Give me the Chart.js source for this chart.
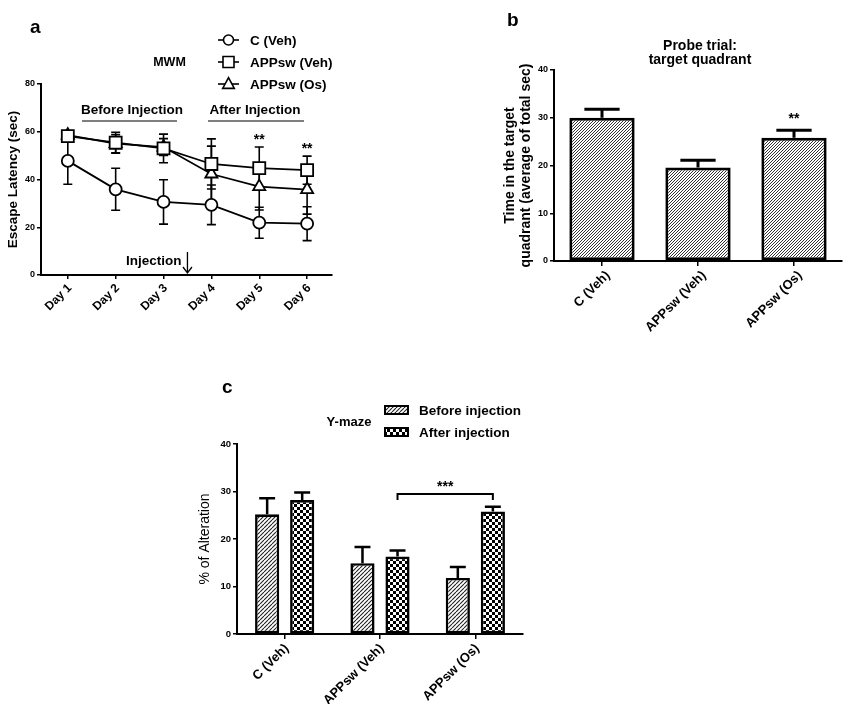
<!DOCTYPE html>
<html><head><meta charset="utf-8">
<script src="https://cdn.jsdelivr.net/npm/chart.js@4"></script>
<style>
html,body{margin:0;padding:0;background:#fff;}
#wrap{position:relative;width:847px;height:718px;overflow:hidden;background:#fff;}
canvas{position:absolute;left:0;top:0;}
</style></head><body>
<div id="wrap">
<canvas id="ca" width="847" height="718"></canvas>
<canvas id="cb" width="847" height="718"></canvas>
<canvas id="cc" width="847" height="718"></canvas>
</div>
<script>
// ---------- DATA ----------
const days = ['Day 1', 'Day 2', 'Day 3', 'Day 4', 'Day 5', 'Day 6'];
const mwmSeries = ['C (Veh)', 'APPsw (Veh)', 'APPsw (Os)'];
const cVeh      = [47.8, 35.9, 30.6, 29.4, 21.9, 21.5];
const cVehErr   = [9.8, 8.8, 9.3, 8.3, 6.5, 7.1];
const appVeh    = [58.2, 55.4, 53.0, 46.5, 44.8, 43.9];
const appVehErr = [1.5, 4.4, 6.0, 10.5, 8.8, 5.9];
const appOs     = [58.6, 55.0, 53.6, 42.3, 37.0, 35.8];
const appOsErr  = [1.3, 3.8, 3.5, 11.7, 9.8, 10.3];

const groups    = ['C (Veh)', 'APPsw (Veh)', 'APPsw (Os)'];
const probeTime = [30.0, 19.6, 25.8];
const probeErr  = [1.8, 1.5, 1.6];

const ymazeSeries    = ['Before injection', 'After injection'];
const ymazeBefore    = [25.2, 14.9, 11.8];
const ymazeBeforeErr = [3.4, 3.4, 2.3];
const ymazeAfter     = [28.2, 16.3, 25.8];
const ymazeAfterErr  = [1.6, 1.3, 1.0];

const yTicksA = [0, 20, 40, 60, 80];
const yTicksB = [0, 10, 20, 30, 40];
const yTicksC = [0, 10, 20, 30, 40];

// ---------- STYLE ----------
const FAM = '"Liberation Sans", Arial, Helvetica, sans-serif';
Chart.defaults.font.family = FAM;
Chart.defaults.color = '#000';

function makeHatch(s, lw, col) {
  const c = document.createElement('canvas'); c.width = s; c.height = s;
  const g = c.getContext('2d');
  g.fillStyle = '#fff'; g.fillRect(0, 0, s, s);
  g.strokeStyle = col; g.lineWidth = lw;
  g.beginPath();
  for (let k = -1; k <= 1; k++) { g.moveTo(k * s, s); g.lineTo(k * s + s, 0); }
  g.stroke();
  return document.createElement('canvas').getContext('2d').createPattern(c, 'repeat');
}
function makeChecker(cell) {
  const c = document.createElement('canvas'); c.width = cell * 2; c.height = cell * 2;
  const g = c.getContext('2d');
  g.fillStyle = '#fff'; g.fillRect(0, 0, cell * 2, cell * 2);
  g.fillStyle = '#000'; g.fillRect(0, 0, cell, cell); g.fillRect(cell, cell, cell, cell);
  return document.createElement('canvas').getContext('2d').createPattern(c, 'repeat');
}
const hatchB = makeHatch(3, 1, '#333');
const hatchC = makeHatch(4, 1.1, '#222');
const checkC = makeChecker(3);

const axisGrid = {drawOnChartArea: false, drawTicks: true, tickLength: 4, color: '#000', lineWidth: 1.5, offset: false};
const axisBorder = {display: true, color: '#000', width: 2};

function fixTicks(vals) { return s => { s.ticks = vals.map(v => ({value: v})); }; }

function txt(ctx, t, x, y, font, align, base) {
  ctx.font = font; ctx.textAlign = align || 'left'; ctx.textBaseline = base || 'alphabetic';
  ctx.fillStyle = '#000'; ctx.fillText(t, x, y);
}

// ---------- PLUGINS ----------
const errLine = {
  id: 'errLine',
  beforeDatasetsDraw(chart) {
    const {ctx} = chart; const y = chart.scales.y;
    ctx.save(); ctx.strokeStyle = '#000'; ctx.lineWidth = 1.6;
    chart.data.datasets.forEach((ds, di) => {
      chart.getDatasetMeta(di).data.forEach((pt, i) => {
        const v = ds.data[i].y, e = ds.errors[i];
        const t = y.getPixelForValue(v + e), b = y.getPixelForValue(v - e), x = pt.x, w = 4.5;
        ctx.beginPath();
        ctx.moveTo(x, t); ctx.lineTo(x, b);
        ctx.moveTo(x - w, t); ctx.lineTo(x + w, t);
        ctx.moveTo(x - w, b); ctx.lineTo(x + w, b);
        ctx.stroke();
      });
    });
    ctx.restore();
  }
};
function errBar(lw, capFrac) {
  return {
    id: 'errBar',
    afterDatasetsDraw(chart) {
      const {ctx} = chart; const y = chart.scales.y;
      ctx.save(); ctx.strokeStyle = '#000'; ctx.lineWidth = lw;
      chart.data.datasets.forEach((ds, di) => {
        chart.getDatasetMeta(di).data.forEach((bar, i) => {
          const v = ds.data[i], e = ds.errors[i];
          const t = y.getPixelForValue(v + e), x = bar.x, w = bar.width * capFrac;
          ctx.beginPath();
          ctx.moveTo(x, bar.y); ctx.lineTo(x, t);
          ctx.moveTo(x - w, t); ctx.lineTo(x + w, t);
          ctx.stroke();
        });
      });
      ctx.restore();
    }
  };
}

function drawMarker(ctx, style, x, y, r) {
  ctx.beginPath();
  if (style === 'circle') ctx.arc(x, y, r, 0, Math.PI * 2);
  else if (style === 'rect') ctx.rect(x - r, y - r, 2 * r, 2 * r);
  else { ctx.moveTo(x, y - r * 1.1); ctx.lineTo(x + r, y + r * 0.75); ctx.lineTo(x - r, y + r * 0.75); ctx.closePath(); }
  ctx.fillStyle = '#fff'; ctx.fill(); ctx.stroke();
}

const annotA = {
  id: 'annotA',
  afterDraw(chart) {
    const {ctx} = chart; const xs = chart.scales.x, ys = chart.scales.y;
    ctx.save();
    txt(ctx, 'a', 30, 33, 'bold 19px ' + FAM);
    txt(ctx, 'MWM', 169.5, 63, 'bold 12.5px ' + FAM, 'center', 'middle');
    const styles = ['circle', 'rect', 'triangle'];
    const sizes = [5, 5.5, 5.8];
    ctx.strokeStyle = '#000'; ctx.lineWidth = 1.6;
    mwmSeries.forEach((s, i) => {
      const yy = 40 + i * 22;
      ctx.beginPath(); ctx.moveTo(218, yy); ctx.lineTo(239, yy); ctx.stroke();
      drawMarker(ctx, styles[i], 228.5, yy, sizes[i]);
      txt(ctx, s, 250, yy + 1, 'bold 13.5px ' + FAM, 'left', 'middle');
    });
    txt(ctx, 'Before Injection', 132, 110, 'bold 13.5px ' + FAM, 'center', 'middle');
    txt(ctx, 'After Injection', 255, 110, 'bold 13.5px ' + FAM, 'center', 'middle');
    ctx.lineWidth = 1.2;
    ctx.beginPath(); ctx.moveTo(82, 121); ctx.lineTo(177, 121); ctx.moveTo(208, 121); ctx.lineTo(304, 121); ctx.stroke();
    txt(ctx, '**', xs.getPixelForValue(4), ys.getPixelForValue(55), 'bold 14px ' + FAM, 'center');
    txt(ctx, '**', xs.getPixelForValue(5), ys.getPixelForValue(51), 'bold 14px ' + FAM, 'center');
    const ax = xs.getPixelForValue(2.5);
    txt(ctx, 'Injection', ax - 6, 261, 'bold 13.5px ' + FAM, 'right', 'middle');
    ctx.lineWidth = 1.3;
    ctx.beginPath(); ctx.moveTo(ax, 252); ctx.lineTo(ax, 273);
    ctx.moveTo(ax - 4.5, 267); ctx.lineTo(ax, 273); ctx.lineTo(ax + 4.5, 267); ctx.stroke();
    ctx.restore();
  }
};

const annotB = {
  id: 'annotB',
  afterDraw(chart) {
    const {ctx} = chart; const ys = chart.scales.y;
    ctx.save();
    txt(ctx, 'b', 507, 26, 'bold 19px ' + FAM);
    txt(ctx, 'Probe trial:', 700, 50, 'bold 14px ' + FAM, 'center');
    txt(ctx, 'target quadrant', 700, 64, 'bold 14px ' + FAM, 'center');
    const bar = chart.getDatasetMeta(0).data[2];
    txt(ctx, '**', bar.x, ys.getPixelForValue(29), 'bold 14px ' + FAM, 'center');
    ctx.restore();
  }
};

const annotC = {
  id: 'annotC',
  afterDraw(chart) {
    const {ctx} = chart; const ys = chart.scales.y;
    ctx.save();
    txt(ctx, 'c', 222, 393, 'bold 19px ' + FAM);
    txt(ctx, 'Y-maze', 349, 422, 'bold 13px ' + FAM, 'center', 'middle');
    const pats = [hatchC, checkC];
    ymazeSeries.forEach((s, i) => {
      const yy = 410 + i * 22;
      ctx.fillStyle = pats[i]; ctx.fillRect(385, yy - 4, 23, 8);
      ctx.strokeStyle = '#000'; ctx.lineWidth = 2; ctx.strokeRect(385, yy - 4, 23, 8);
      txt(ctx, s, 419, yy + 1, 'bold 13.5px ' + FAM, 'left', 'middle');
    });
    const m = chart.getDatasetMeta(1);
    const x1 = m.data[1].x, x2 = m.data[2].x;
    const yb = ys.getPixelForValue(29.5), ye = ys.getPixelForValue(28.2);
    ctx.strokeStyle = '#000'; ctx.lineWidth = 2;
    ctx.beginPath(); ctx.moveTo(x1, ye); ctx.lineTo(x1, yb); ctx.lineTo(x2, yb); ctx.lineTo(x2, ye); ctx.stroke();
    txt(ctx, '***', (x1 + x2) / 2, ys.getPixelForValue(30.2), 'bold 14px ' + FAM, 'center');
    ctx.restore();
  }
};

const common = {responsive: false, animation: false, events: [], plugins: {legend: {display: false}, tooltip: {enabled: false}}};

// ---------- CHART A ----------
function lineDs(label, vals, errs, style, r) {
  return {
    label, data: vals.map((v, i) => ({x: i, y: v})), errors: errs,
    borderColor: '#000', borderWidth: 1.8, fill: false, tension: 0,
    pointStyle: style, pointRadius: r, pointBorderWidth: 1.8,
    pointBackgroundColor: '#fff', pointBorderColor: '#000', clip: false
  };
}
new Chart(document.getElementById('ca'), {
  type: 'line',
  data: {datasets: [
    lineDs(mwmSeries[0], cVeh, cVehErr, 'circle', 6),
    lineDs(mwmSeries[1], appVeh, appVehErr, 'rect', 8.5),
    lineDs(mwmSeries[2], appOs, appOsErr, 'triangle', 7)
  ]},
  options: Object.assign({}, common, {
    layout: {padding: {left: 0, top: 84, right: 515, bottom: 383}},
    scales: {
      x: {type: 'linear', min: -0.56, max: 5.52,
          afterBuildTicks: fixTicks(days.map((d, i) => i)), afterFit: s => { s.height = 60; },
          ticks: {callback: v => days[v], autoSkip: false, minRotation: 45, maxRotation: 45, padding: 2, labelOffset: 2,
                  font: {size: 12, weight: 'bold'}, color: '#000'},
          grid: axisGrid, border: axisBorder},
      y: {min: 0, max: 80, afterBuildTicks: fixTicks(yTicksA), afterFit: s => { s.width = 41; },
          ticks: {padding: 2, font: {size: 9, weight: 'bold'}, color: '#000'},
          grid: axisGrid, border: axisBorder,
          title: {display: true, text: 'Escape Latency (sec)', font: {size: 13.5, weight: 'bold', lineHeight: 1.2}, padding: {top: 5, bottom: 0}, color: '#000'}}
    }
  }),
  plugins: [errLine, annotA]
});

// ---------- CHART B ----------
new Chart(document.getElementById('cb'), {
  type: 'bar',
  data: {labels: groups, datasets: [{
    label: 'Time in target quadrant', data: probeTime, errors: probeErr,
    backgroundColor: hatchB, borderColor: '#000', borderWidth: 3, borderSkipped: false,
    barPercentage: 0.68, categoryPercentage: 1
  }]},
  options: Object.assign({}, common, {
    layout: {padding: {left: 500, top: 70, right: 5, bottom: 377}},
    scales: {
      x: {afterFit: s => { s.height = 80; },
          ticks: {autoSkip: false, minRotation: 45, maxRotation: 45, padding: 2, labelOffset: 6, font: {size: 13, weight: 'bold'}, color: '#000'},
          grid: Object.assign({}, axisGrid, {tickLength: 5}), border: axisBorder},
      y: {min: 0, max: 40, afterBuildTicks: fixTicks(yTicksB), afterFit: s => { s.width = 54; },
          ticks: {padding: 2, font: {size: 9, weight: 'bold'}, color: '#000'},
          grid: axisGrid, border: axisBorder,
          title: {display: true, text: ['Time in the target', 'quadrant (average of total sec)'],
                  font: {size: 14, weight: 'bold', lineHeight: 1.15}, padding: {top: 2, bottom: 0}, color: '#000'}}
    }
  }),
  plugins: [errBar(3, 0.27), annotB]
});

// ---------- CHART C ----------
new Chart(document.getElementById('cc'), {
  type: 'bar',
  data: {labels: groups, datasets: [
    {label: ymazeSeries[0], data: ymazeBefore, errors: ymazeBeforeErr, backgroundColor: hatchC,
     borderColor: '#000', borderWidth: 2.6, borderSkipped: false, barPercentage: 0.69, categoryPercentage: 0.735},
    {label: ymazeSeries[1], data: ymazeAfter, errors: ymazeAfterErr, backgroundColor: checkC,
     borderColor: '#000', borderWidth: 2.6, borderSkipped: false, barPercentage: 0.69, categoryPercentage: 0.735}
  ]},
  options: Object.assign({}, common, {
    layout: {padding: {left: 190, top: 444, right: 324, bottom: 14}},
    scales: {
      x: {afterFit: s => { s.height = 70; },
          ticks: {autoSkip: false, minRotation: 45, maxRotation: 45, padding: 2, labelOffset: 2, font: {size: 13, weight: 'bold'}, color: '#000'},
          grid: Object.assign({}, axisGrid, {tickLength: 5}), border: axisBorder},
      y: {min: 0, max: 40, afterBuildTicks: fixTicks(yTicksC), afterFit: s => { s.width = 47; },
          ticks: {padding: 2, font: {size: 9.5, weight: 'bold'}, color: '#000'},
          grid: axisGrid, border: axisBorder,
          title: {display: true, text: '% of Alteration', font: {size: 14, weight: 'normal', lineHeight: 1.2}, padding: {top: 7, bottom: 0}, color: '#000'}}
    }
  }),
  plugins: [errBar(2.5, 0.33), annotC]
});
</script>
</body></html>
